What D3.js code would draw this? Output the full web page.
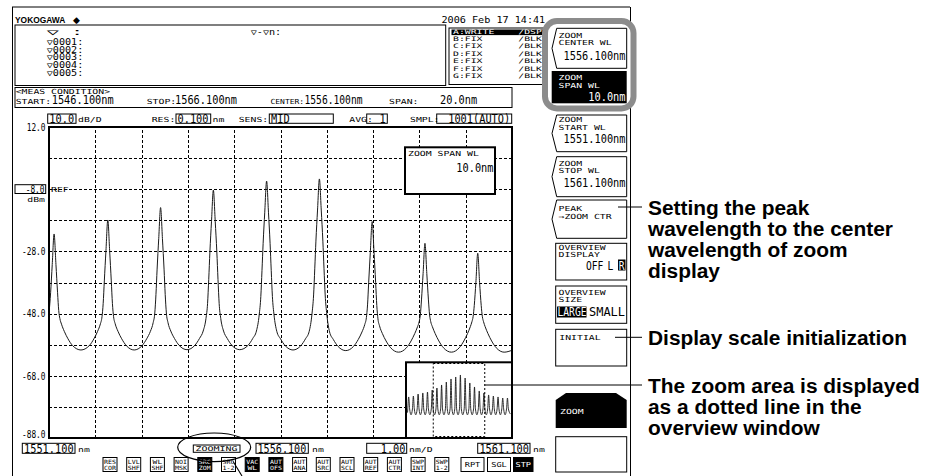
<!DOCTYPE html>
<html><head><meta charset="utf-8">
<script src="https://cdn.jsdelivr.net/npm/d3@7"></script>
<style>body{margin:0;background:#fff}svg{display:block}</style>
</head><body>
<svg id="c" width="936" height="476"></svg>
<script>
// ---------------- DATA ----------------
const wlStart = 1551.1, wlStop = 1561.1;          // zoom display span (nm)
const levelTop = 12, levelBottom = -88;           // dBm
const xGridWl = [1552.1,1553.1,1554.1,1555.1,1556.1,1557.1,1558.1,1559.1,1560.1];
const yGridDbm = [2,-8,-18,-28,-38,-48,-58,-68,-78];
const yTickDbm = [12,-8,-28,-48,-68,-88];
const yTickLabels = ["12.0","-8.0","-28.0","-48.0","-68.0","-88.0"];

const traceWl = [
1551.10,1551.135,1551.17,1551.21,1551.25,1551.285,1551.31,1551.335,1551.37,1551.43,1551.51,1551.61,1551.79,
1551.97,1552.07,1552.15,1552.21,1552.245,1552.27,1552.295,1552.33,1552.37,1552.41,1552.445,1552.47,1552.495,1552.53,1552.59,1552.67,1552.77,1552.94,
1553.11,1553.21,1553.29,1553.35,1553.385,1553.41,1553.435,1553.47,1553.51,1553.55,1553.585,1553.61,1553.635,1553.67,1553.73,1553.81,1553.91,1554.08,
1554.25,1554.35,1554.43,1554.49,1554.525,1554.55,1554.575,1554.61,1554.65,1554.69,1554.725,1554.75,1554.775,1554.81,1554.87,1554.95,1555.05,1555.22,
1555.40,1555.50,1555.58,1555.64,1555.675,1555.70,1555.725,1555.76,1555.80,1555.84,1555.875,1555.90,1555.925,1555.96,1556.02,1556.10,1556.20,1556.37,
1556.54,1556.64,1556.72,1556.78,1556.815,1556.84,1556.865,1556.90,1556.94,1556.98,1557.015,1557.04,1557.065,1557.10,1557.16,1557.24,1557.34,1557.51,
1557.68,1557.78,1557.86,1557.92,1557.955,1557.98,1558.005,1558.04,1558.08,1558.12,1558.155,1558.18,1558.205,1558.24,1558.30,1558.38,1558.48,1558.65,
1558.82,1558.92,1559.00,1559.06,1559.095,1559.12,1559.145,1559.18,1559.22,1559.26,1559.295,1559.32,1559.345,1559.38,1559.44,1559.52,1559.62,1559.79,
1559.96,1560.06,1560.14,1560.20,1560.235,1560.26,1560.285,1560.32,1560.36,1560.40,1560.435,1560.46,1560.485,1560.52,1560.58,1560.66,1560.76,1560.93,1561.10];
const traceDbm = [
-48.0,-41.3,-32.2,-22.4,-32.2,-41.3,-47.0,-49.6,-51.4,-53.7,-56.1,-58.3,-59.7,
-58.3,-56.1,-53.7,-51.3,-49.0,-44.8,-37.5,-27.8,-17.9,-27.8,-37.5,-44.8,-49.0,-51.3,-53.7,-56.1,-58.3,-59.7,
-58.3,-56.1,-53.7,-50.9,-47.8,-41.9,-33.7,-23.9,-13.9,-23.9,-33.7,-41.9,-47.8,-50.9,-53.6,-56.0,-58.2,-59.6,
-58.2,-56.0,-53.6,-49.6,-44.7,-37.0,-28.2,-18.3,-8.3,-18.3,-28.2,-37.0,-44.7,-49.6,-53.6,-56.0,-58.2,-59.6,
-58.2,-56.0,-53.6,-48.4,-42.5,-34.2,-25.4,-15.4,-5.4,-15.4,-25.4,-34.2,-42.5,-48.4,-53.7,-56.1,-58.3,-59.7,
-58.3,-56.1,-53.7,-48.1,-42.0,-33.6,-24.7,-14.7,-4.7,-14.7,-24.7,-33.6,-42.0,-48.2,-53.9,-56.3,-58.5,-59.9,
-58.5,-56.3,-53.9,-51.5,-49.3,-45.2,-37.9,-28.3,-18.4,-28.3,-38.0,-45.4,-49.7,-52.0,-54.4,-56.8,-59.0,-60.4,
-59.0,-56.8,-54.4,-52.2,-50.6,-48.4,-43.6,-35.1,-25.4,-35.1,-43.6,-48.4,-50.6,-52.2,-54.4,-56.8,-59.0,-60.4,
-59.0,-56.8,-54.4,-52.2,-50.6,-49.0,-45.4,-38.0,-28.6,-38.0,-45.4,-49.0,-50.6,-52.2,-54.4,-56.8,-59.0,-60.4,-59.8];

// overview window (full measurement span, as drawn in the small window)
const overviewStart = 1546.1, overviewStop = 1566.1;
const overviewWl = [1546.10,
1546.15,1546.33,1546.51,1546.79, 1547.06,1547.24,1547.42,1547.70, 1547.98,1548.16,1548.34,1548.61,
1548.89,1549.07,1549.25,1549.53, 1549.80,1549.98,1550.16,1550.44, 1550.72,1550.90,1551.08,1551.35,
1551.63,1551.81,1551.99,1552.27, 1552.54,1552.72,1552.90,1553.18, 1553.46,1553.64,1553.82,1554.09,
1554.37,1554.55,1554.73,1555.01, 1555.28,1555.46,1555.64,1555.92, 1556.19,1556.37,1556.55,1556.83,
1557.11,1557.29,1557.47,1557.74, 1558.02,1558.20,1558.38,1558.66, 1558.93,1559.11,1559.29,1559.57,
1559.85,1560.03,1560.21,1560.48, 1560.76,1560.94,1561.12,1561.40, 1561.67,1561.85,1562.03,1562.31,
1562.59,1562.77,1562.95,1563.22, 1563.50,1563.68,1563.86,1564.14, 1564.41,1564.59,1564.77,1565.05,
1565.33,1565.51,1565.69,1566.10];
const overviewDbm = [-55,
-50,-33.9,-50,-58, -50,-32.6,-50,-58, -50,-29.9,-50,-58,
-50,-28.5,-50,-58, -50,-27.2,-50,-58, -50,-24.5,-50,-58,
-50,-21.8,-50,-58, -50,-17.7,-50,-58, -50,-13.7,-50,-58,
-50,-9.6,-50,-58, -50,-6.9,-50,-58, -50,-4.2,-50,-58,
-50,-8.3,-50,-58, -50,-15.0,-50,-58, -50,-20.4,-50,-58,
-50,-25.8,-50,-58, -50,-28.5,-50,-58, -50,-31.2,-50,-58,
-50,-32.6,-50,-58, -50,-33.9,-50,-58, -50,-35.3,-50,-58,
-50,-35.3,-50,-57];

// screen texts
const markerRows = ["▽    :","▽0001:","▽0002:","▽0003:","▽0004:","▽0005:"];
const traceRows = [["A:WRITE","/DSP"],["B:FIX","/BLK"],["C:FIX","/BLK"],["D:FIX","/BLK"],["E:FIX","/BLK"],["F:FIX","/BLK"],["G:FIX","/BLK"]];
const bottomKeys = [["RES","COR"],["LVL","SHF"],["WL","SHF"],["NOI","MSK"],["SRC","ZOM"],["SRC","1-2"],["VAC","WL"],["AUT","OFS"],["AUT","ANA"],["AUT","SRC"],["AUT","SCL"],["AUT","REF"],["AUT","CTR"],["SWP","INT"],["SWP","1-2"]];
const bottomKeysOn = ["SRC ZOM","VAC WL","AUT OFS"];
const notes = [
  {y:207, lines:["Setting the peak","wavelength to the center","wavelength of zoom","display"]},
  {y:337, lines:["Display scale initialization"]},
  {y:385, lines:["The zoom area is displayed","as a dotted line in the","overview window"]}
];

// ---------------- DRAWING ----------------
const svg = d3.select("#c");
svg.append("rect").attr("width",936).attr("height",476).attr("fill","#fff");
const MONO = "'DejaVu Sans Mono', monospace";
function txt(sel, x, yy, s, o) {
  o = o || {};
  const e = sel.append("text").attr("x", x).attr("y", yy)
    .attr("font-family", o.ff || MONO)
    .attr("font-size", o.fs || 7)
    .attr("font-weight", o.fw || "normal")
    .attr("fill", o.fill || "#000")
    .attr("text-anchor", o.a || "start")
    .text(s);
  if (o.cw) e.attr("textLength", o.cw * Array.from(s).length).attr("lengthAdjust", "spacingAndGlyphs");
  return e;
}
const SM = {fs:7, cw:5.9};
const LG = {fs:11.5, cw:6.2};
const MK = {fs:9.5, cw:6.1};
const MR = {fs:8.2, cw:6.1};
const YL = {fs:10.5, cw:4.7};
const TN = {fs:5.8, cw:4.0};
const TR = {fs:6.2, cw:5.9};
const opt = (...a) => Object.assign({}, ...a);
function box(sel, x0, y0, x1, y1, o) {
  o = o || {};
  return sel.append("rect").attr("x", x0).attr("y", y0).attr("width", x1 - x0).attr("height", y1 - y0)
    .attr("fill", o.fill || "none").attr("stroke", o.stroke || "#000").attr("stroke-width", o.sw || 1);
}
const line = (x0,y0,x1,y1,w) => svg.append("line").attr("x1",x0).attr("y1",y0).attr("x2",x1).attr("y2",y1)
  .attr("stroke","#000").attr("stroke-width",w||1);

// screen frame
line(12,7,630,7); line(12.5,7,12.5,476); line(630.5,7,630.5,476);
txt(svg, 15, 23, "YOKOGAWA", {ff:"'Liberation Sans', Arial, sans-serif", fs:9.8, fw:"bold", cw:6.3});
txt(svg, 73, 23, "◆", {ff:"'DejaVu Sans', sans-serif", fs:9});
txt(svg, 441.5, 22.5, "2006 Feb 17 14:41", MK);

// marker box
box(svg, 15, 25, 445.7, 85.5);
const markerY = [35, 44.8, 52.5, 60.2, 67.9, 75.6];
markerRows.forEach((s,i) => txt(svg, 46.7, markerY[i], s, MR));
txt(svg, 250.7, 35, "▽-▽n:", MR);

// trace status box
box(svg, 449, 28, 570, 84.5);
svg.append("rect").attr("x",451.5).attr("y",29.5).attr("width",110).attr("height",5.6).attr("fill","#000");
const trY = [34.3, 40.8, 48.4, 55.8, 63.4, 70.9, 78.4];
traceRows.forEach((r,i) => {
  const f = i === 0 ? "#fff" : "#000";
  txt(svg, 453, trY[i], r[0], opt(TR, {fill:f}));
  txt(svg, 518.3, trY[i], r[1], opt(TR, {fill:f}));
});

// measurement condition box
box(svg, 15, 87.5, 512, 107.5);
txt(svg, 15.7, 93.6, "<MEAS CONDITION>", SM);
txt(svg, 15.7, 103.5, "START:", SM);  txt(svg, 51.7, 104, "1546.100nm", LG);
txt(svg, 146.7, 103.5, "STOP:", SM);  txt(svg, 175, 104, "1566.100nm", LG);
txt(svg, 270.5, 103.5, "CENTER:", opt(SM, {cw:4.8})); txt(svg, 304.5, 104, "1556.100nm", opt(LG, {cw:5.8}));
txt(svg, 389, 103.5, "SPAN:", SM);    txt(svg, 440, 104, "20.0nm", LG);

// setting row
box(svg, 47.7, 114, 76, 123.3); txt(svg, 49.3, 122.6, "10.0", LG); txt(svg, 78, 122, "dB/D", SM);
txt(svg, 151.7, 122, "RES:", SM); box(svg, 176, 114, 210.7, 123.3); txt(svg, 177.5, 122.6, "0.100", LG); txt(svg, 212.5, 122, "nm", SM);
txt(svg, 238.7, 122, "SENS:", SM); box(svg, 269.3, 114, 333.3, 123.3); txt(svg, 271, 122.6, "MID", LG);
txt(svg, 349.3, 122, "AVG:", SM); box(svg, 366.7, 114, 387.3, 123.3); txt(svg, 385.8, 122.6, "1", opt({a:"end"}, LG));
txt(svg, 410, 122, "SMPL:", SM); box(svg, 436.7, 114, 511.7, 123.3); txt(svg, 510.2, 122.6, "1001(AUTO)", opt({a:"end"}, LG));

// ---------- main plot ----------
const PL = 49, PR = 512, PT = 127, PB = 438;
const x = d3.scaleLinear().domain([wlStart, wlStop]).range([PL, PR]);
const y = d3.scaleLinear().domain([levelBottom, levelTop]).range([PB, PT]);

const gx = svg.append("g").attr("transform", `translate(0,${PB})`)
  .call(d3.axisBottom(x).tickValues(xGridWl).tickSize(-(PB-PT)).tickFormat(""));
const gy = svg.append("g").attr("transform", `translate(${PL},0)`)
  .call(d3.axisLeft(y).tickValues(yGridDbm).tickSize(-(PR-PL)).tickFormat(""));
[gx, gy].forEach(g => {
  g.select(".domain").remove();
  g.selectAll(".tick line").attr("stroke","#000").attr("stroke-width",1)
    .attr("stroke-dasharray","3,2").attr("shape-rendering","crispEdges");
});

// y labels
yTickDbm.forEach((v,i) => {
  const yy = y(v);
  if (v === -8) {
    box(svg, 15, yy-4.5, 45.7, yy+4.3);
    txt(svg, 44.5, yy+3.8, yTickLabels[i], opt({a:"end"}, YL));
    txt(svg, 51, yy+2.5, "REF", SM);
    txt(svg, 45, yy+12.3, "dBm", opt({a:"end"}, SM));
  } else if (v === levelBottom) {
    txt(svg, 45.5, yy, yTickLabels[i], opt({a:"end"}, YL));
  } else {
    txt(svg, 45.5, yy+3.8, yTickLabels[i], opt({a:"end"}, YL));
  }
});

svg.append("clipPath").attr("id","pc").append("rect").attr("x",PL).attr("y",PT).attr("width",PR-PL).attr("height",PB-PT);
const tracePts = traceWl.map((w,i) => [w, traceDbm[i]]);
svg.append("path").attr("clip-path","url(#pc)")
  .attr("d", d3.line().x(d => x(d[0])).y(d => y(d[1])).curve(d3.curveMonotoneX)(tracePts))
  .attr("fill","none").attr("stroke","#1a1a1a").attr("stroke-width",1);

// zoom span popup
box(svg, 405, 147.3, 495, 194, {fill:"#fff", sw:2});
txt(svg, 408, 156, "ZOOM SPAN WL", SM);
txt(svg, 493.5, 172.3, "10.0nm", opt({a:"end"}, LG));

// overview window
box(svg, 406, 362.3, 512, 438, {fill:"#fff", sw:2});
const ox = d3.scaleLinear().domain([overviewStart, overviewStop]).range([407.5, 510.5]);
const oy = d3.scaleLinear().domain([levelBottom, levelTop]).range([437, 363]);
svg.append("path")
  .attr("d", d3.line().x(d => ox(d[0])).y(d => oy(d[1])).curve(d3.curveMonotoneX)(overviewWl.map((w,i)=>[w, overviewDbm[i]])))
  .attr("fill","none").attr("stroke","#1a1a1a").attr("stroke-width",0.9);
svg.append("rect").attr("x", ox(wlStart)).attr("y", 363.5).attr("width", ox(wlStop)-ox(wlStart)).attr("height", 73)
  .attr("fill","none").attr("stroke","#000").attr("stroke-width",1).attr("stroke-dasharray","2,2");

// plot frame
box(svg, PL, PT, PR, PB, {sw:2});

// bottom axis row
box(svg, 22.3, 443.3, 75, 453.3); txt(svg, 24, 452.5, "1551.100", LG); txt(svg, 78, 452, "nm", SM);
box(svg, 193.3, 445, 240, 452.3); txt(svg, 195.5, 451.3, "ZOOMING", {fs:6.4, cw:6.0});
box(svg, 256, 443.3, 308.3, 453.3); txt(svg, 257.5, 452.5, "1556.100", opt(LG, {cw:6.1})); txt(svg, 312, 452, "nm", SM);
box(svg, 366.7, 443.3, 406.7, 453.3); txt(svg, 405.5, 452.5, "1.00", opt({a:"end"}, LG)); txt(svg, 409, 452, "nm/D", SM);
box(svg, 477.7, 443.3, 530, 453.3); txt(svg, 479.4, 452.5, "1561.100", LG); txt(svg, 533, 452, "nm", SM);

// bottom function keys
bottomKeys.forEach((k,i) => {
  const kx = 103 + i*23.7;
  const on = bottomKeysOn.includes(k.join(" "));
  box(svg, kx, 457.5, kx+14, 471.5, {fill: on ? "#000" : "#fff"});
  const f = on ? "#fff" : "#000";
  txt(svg, kx+7, 463.8, k[0], opt({a:"middle", fill:f}, TN, {cw: k[0].length===2?4.8:4.0}));
  txt(svg, kx+7, 470.3, k[1], opt({a:"middle", fill:f}, TN, {cw: k[1].length===2?4.8:4.0}));
});
[["RPT",461,484,false],["SGL",487.5,510.5,false],["STP",513.5,533,true]].forEach(k => {
  box(svg, k[1], 457.5, k[2], 471.5, {fill: k[3] ? "#000" : "#fff"});
  txt(svg, (k[1]+k[2])/2, 467, k[0], {a:"middle", fs:6.8, cw:5.2, fill: k[3] ? "#fff" : "#000"});
});

// ellipse around ZOOMING
svg.append("ellipse").attr("cx",214.2).attr("cy",447.3).attr("rx",36.5).attr("ry",14.3)
  .attr("fill","none").attr("stroke","#000").attr("stroke-width",1.2);
line(233, 461.3, 242, 476, 1.1);

// ---------- soft keys ----------
const keysG = svg.append("g");
function chevKey(y0, y1) {
  const xl = 556.7, xr = 626.7, xm = 552;
  keysG.append("path").attr("d", `M${xr},${y0}L${xl},${y0}L${xm},${(y0+y1)/2}L${xl},${y1}L${xr},${y1}Z`)
    .attr("fill","#fff").attr("stroke","#000").attr("stroke-width",1);
}
svg.append("rect").attr("x",545).attr("y",21).attr("width",88.5).attr("height",87.5).attr("rx",12)
  .attr("fill","#fff").attr("stroke","#8c8c8c").attr("stroke-width",6);
svg.node().appendChild(keysG.node());

chevKey(28.3, 68.3);
txt(keysG, 558.5, 37.6, "ZOOM", SM); txt(keysG, 558.5, 45, "CENTER WL", SM);
txt(keysG, 625.5, 59.5, "1556.100nm", opt({a:"end"}, LG));

keysG.append("rect").attr("x",551.7).attr("y",71).attr("width",75).attr("height",32.3).attr("fill","#000");
txt(keysG, 558.5, 80.2, "ZOOM", opt({fill:"#fff"}, SM)); txt(keysG, 558.5, 87.6, "SPAN WL", opt({fill:"#fff"}, SM));
txt(keysG, 625.5, 101, "10.0nm", opt({a:"end", fill:"#fff"}, LG));

chevKey(115, 151.7);
txt(keysG, 558.5, 122.2, "ZOOM", SM); txt(keysG, 558.5, 129.5, "START WL", SM);
txt(keysG, 625.5, 143, "1551.100nm", opt({a:"end"}, LG));

chevKey(156.7, 196.7);
txt(keysG, 558.5, 166, "ZOOM", SM); txt(keysG, 558.5, 173, "STOP WL", SM);
txt(keysG, 625.5, 186.5, "1561.100nm", opt({a:"end"}, LG));

chevKey(200, 238.3);
txt(keysG, 558.5, 211, "PEAK", SM); txt(keysG, 558.5, 219, "→ZOOM CTR", SM);

box(keysG, 555.7, 243.3, 626.7, 280);
txt(keysG, 558.5, 250, "OVERVIEW", SM); txt(keysG, 558.5, 257, "DISPLAY", SM);
txt(keysG, 586, 269.5, "OFF", opt(LG, {cw:5.8}));
txt(keysG, 607.5, 269.5, "L", opt(LG, {cw:5.8}));
keysG.append("rect").attr("x",618).attr("y",259.5).attr("width",7.5).attr("height",11).attr("fill","#000");
txt(keysG, 618.8, 269.5, "R", opt({fill:"#fff"}, LG, {cw:5.8}));

box(keysG, 555.7, 286, 626.7, 323.3);
txt(keysG, 558.5, 294.5, "OVERVIEW", SM); txt(keysG, 558.5, 301.8, "SIZE", SM);
keysG.append("rect").attr("x",557).attr("y",306.5).attr("width",29.5).attr("height",11).attr("fill","#000");
txt(keysG, 557.5, 316, "LARGE", opt({fill:"#fff"}, LG, {cw:5.8}));
txt(keysG, 589, 316, "SMALL", opt(LG, {cw:7.2}));

box(keysG, 555.7, 329.3, 626.7, 366);
txt(keysG, 559.3, 340, "INITIAL", SM);

keysG.append("path").attr("d","M555.7,428L555.7,400L566,393L616,393L626.7,400L626.7,428Z").attr("fill","#000");
txt(keysG, 560, 414, "ZOOM", opt({fill:"#fff"}, SM));

box(keysG, 555.7, 436.7, 626.7, 472);

// ---------- annotations ----------
line(618, 207, 642, 207);
line(615, 337.3, 642, 337.3);
line(ox(wlStop), 385, 642, 385);
notes.forEach(n => {
  n.lines.forEach((s,i) => {
    svg.append("text").attr("x",648).attr("y", n.y + 7.5 + i*21.3)
      .attr("font-family","'Liberation Sans', Arial, Helvetica, sans-serif")
      .attr("font-weight","bold").attr("font-size",20.9).attr("fill","#000").text(s);
  });
});
</script>
</body></html>
